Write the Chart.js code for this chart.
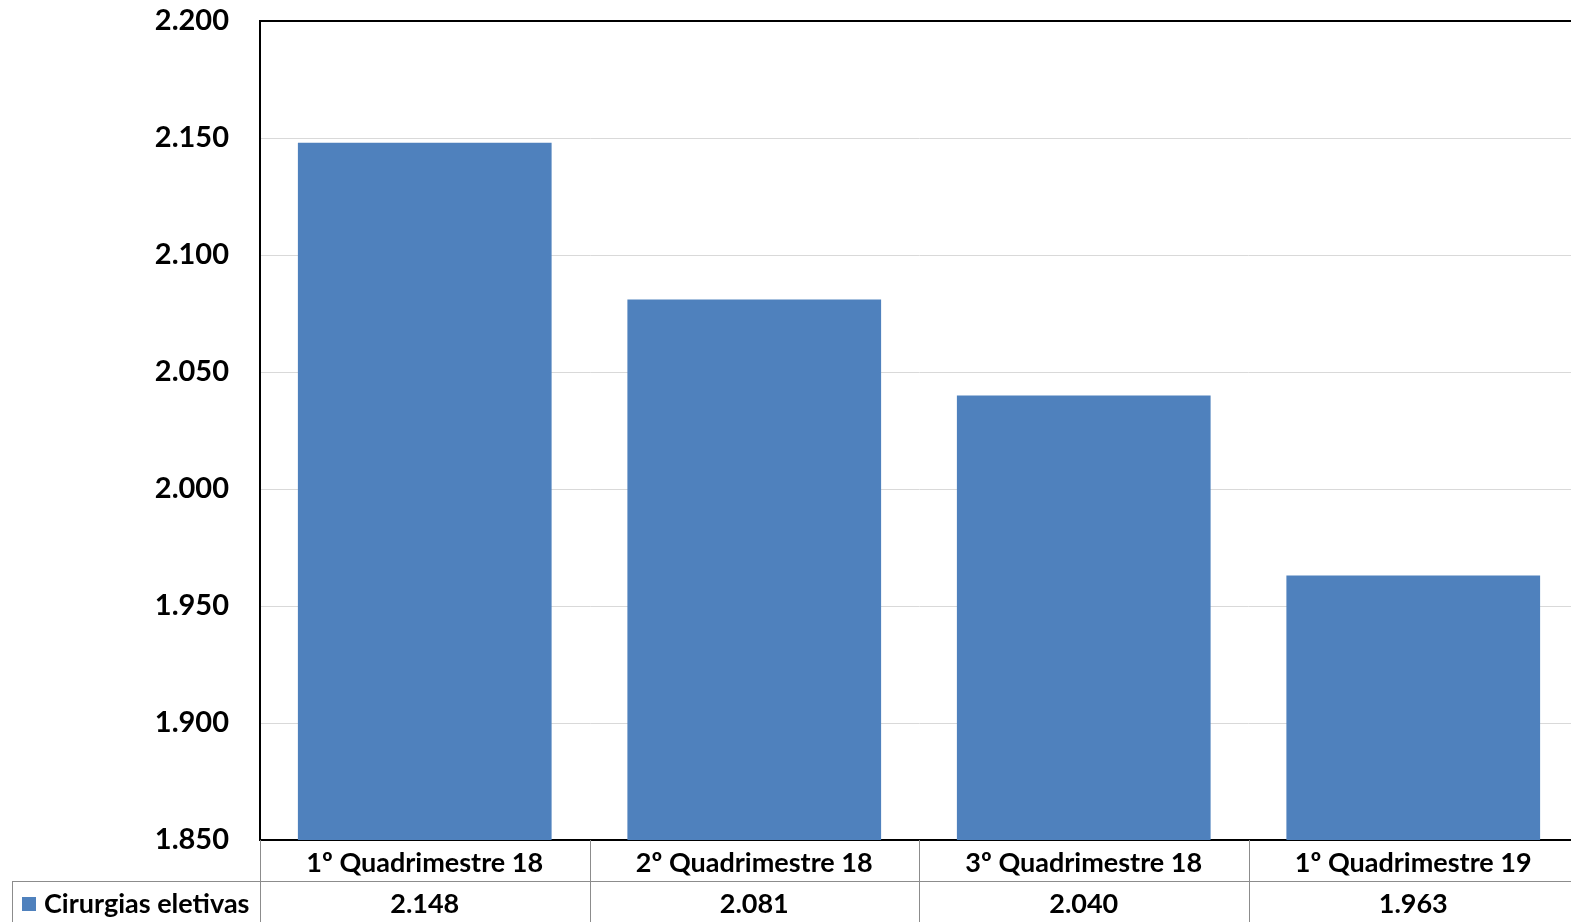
<!DOCTYPE html>
<html>
<head>
<meta charset="utf-8">
<script src="https://cdn.jsdelivr.net/npm/chart.js@4/dist/chart.umd.min.js"></script>
<style>
  html, body { margin: 0; padding: 0; background: #fff; overflow: hidden; }
  canvas { display: block; }
</style>
</head>
<body>
<canvas id="chart" width="1580" height="922"></canvas>
<script>
// data
const categories = ["1º Quadrimestre 18", "2º Quadrimestre 18", "3º Quadrimestre 18", "1º Quadrimestre 19"];
const seriesName = "Cirurgias eletivas";
const values = [2148, 2081, 2040, 1963];
const yTicks = [1850, 1900, 1950, 2000, 2050, 2100, 2150, 2200];

const BAR_COLOR = "#4f81bd";
const FONT = "Lato";

const fmt = v => {
  const s = String(Math.round(v));
  return s.length > 3 ? s.slice(0, -3) + "." + s.slice(-3) : s;
};

// draws the data table under the plot (categories row + values row)
const dataTable = {
  id: "dataTable",
  afterDraw(chart) {
    const { ctx, chartArea, scales } = chart;
    const x = scales.x;
    const top = chartArea.bottom;
    const rowH = 41;
    const row2 = top + rowH;
    const half = (x.getPixelForValue(1) - x.getPixelForValue(0)) / 2;
    ctx.save();
    ctx.strokeStyle = "#8c8c8c";
    ctx.lineWidth = 1;
    ctx.beginPath();
    // vertical separators
    for (let i = 0; i <= categories.length; i++) {
      const px = Math.round(x.getPixelForValue(i) - half) + 0.5;
      ctx.moveTo(px, top);
      ctx.lineTo(px, chart.height);
    }
    // row separator incl. legend cell
    ctx.moveTo(12, row2 + 0.5);
    ctx.lineTo(chart.width, row2 + 0.5);
    ctx.moveTo(12.5, row2);
    ctx.lineTo(12.5, chart.height);
    ctx.stroke();

    ctx.fillStyle = "#000";
    ctx.font = "bold 27px " + FONT;
    ctx.textAlign = "center";
    ctx.textBaseline = "middle";
    categories.forEach((c, i) => {
      const px = x.getPixelForValue(i);
      ctx.fillText(c, px, top + rowH / 2 + 3);
      ctx.fillText(fmt(values[i]), px, row2 + rowH / 2 + 3);
    });

    // legend key
    ctx.fillStyle = BAR_COLOR;
    ctx.fillRect(22, row2 + 16, 14, 14);
    ctx.fillStyle = "#000";
    ctx.textAlign = "left";
    ctx.fillText(chart.data.datasets[0].label, 44, row2 + rowH / 2 + 3);
    ctx.restore();
  }
};

new Chart(document.getElementById("chart"), {
  type: "bar",
  data: {
    labels: categories,
    datasets: [{
      label: seriesName,
      data: values,
      backgroundColor: BAR_COLOR,
      categoryPercentage: 1,
      barPercentage: 0.77
    }]
  },
  options: {
    responsive: false,
    animation: false,
    layout: { padding: { top: 21, right: 2, left: 0, bottom: 0 } },
    plugins: {
      legend: { display: false },
      tooltip: { enabled: false }
    },
    scales: {
      x: {
        grid: { display: false, drawTicks: false },
        border: { color: "#000", width: 2 },
        ticks: { display: false },
        afterFit: s => { s.height = 82; }
      },
      y: {
        min: yTicks[0],
        max: yTicks[yTicks.length - 1],
        afterBuildTicks: s => { s.ticks = yTicks.map(v => ({ value: v })); },
        afterFit: s => {
          s.width = 260;
          // tick padding is meant horizontally only
          s.paddingTop = 0;
          s.paddingBottom = 0;
        },
        grid: {
          drawTicks: false,
          color: c => (c.tick && c.tick.value === yTicks[yTicks.length - 1]) ? "#000" : "#d9d9d9",
          lineWidth: c => (c.tick && c.tick.value === yTicks[yTicks.length - 1]) ? 2 : 1
        },
        border: { color: "#000", width: 2 },
        ticks: {
          padding: 31,
          color: "#000",
          font: { family: FONT, weight: "bold", size: 29 },
          callback: v => fmt(v)
        }
      }
    }
  },
  plugins: [dataTable]
});
</script>
</body>
</html>
